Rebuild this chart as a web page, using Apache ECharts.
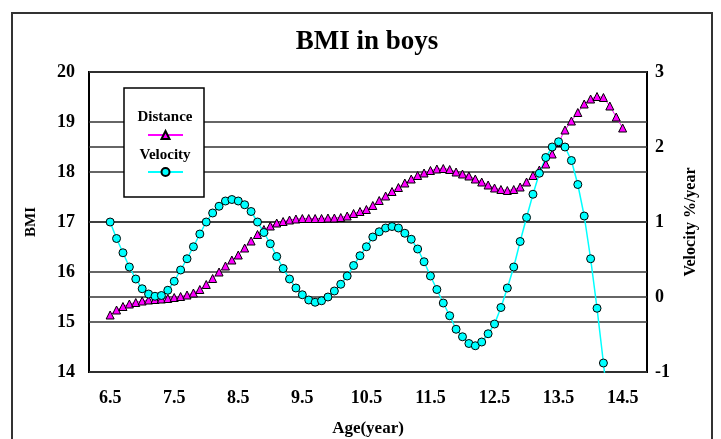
<!DOCTYPE html>
<html>
<head>
<meta charset="utf-8">
<style>
html, body { margin: 0; padding: 0; background: #fff; }
#chart { width: 721px; height: 439px; }
</style>
<script src="https://cdn.jsdelivr.net/npm/echarts@6/dist/echarts.min.js"></script>
</head>
<body>
<div id="chart"></div>
<script>
// BMI (distance) and BMI velocity by age, boys
var distanceAges = [6.5, 6.6, 6.7, 6.8, 6.9, 7.0, 7.1, 7.2, 7.3, 7.4, 7.5, 7.6, 7.7, 7.8, 7.9,
  8.0, 8.1, 8.2, 8.3, 8.4, 8.5, 8.6, 8.7, 8.8, 8.9, 9.0, 9.1, 9.2, 9.3, 9.4, 9.5, 9.6, 9.7, 9.8, 9.9,
  10.0, 10.1, 10.2, 10.3, 10.4, 10.5, 10.6, 10.7, 10.8, 10.9, 11.0, 11.1, 11.2, 11.3, 11.4, 11.5,
  11.6, 11.7, 11.8, 11.9, 12.0, 12.1, 12.2, 12.3, 12.4, 12.5, 12.6, 12.7, 12.8, 12.9, 13.0, 13.1,
  13.2, 13.3, 13.4, 13.5, 13.6, 13.7, 13.8, 13.9, 14.0, 14.1, 14.2, 14.3, 14.4, 14.5]
var distanceBMI = [15.14, 15.24, 15.31, 15.36, 15.39, 15.42, 15.44, 15.45, 15.46, 15.47, 15.49,
  15.51, 15.54, 15.58, 15.65, 15.75, 15.87, 16.00, 16.12, 16.24, 16.34, 16.48, 16.62, 16.75, 16.85,
  16.92, 16.98, 17.01, 17.04, 17.06, 17.07, 17.07, 17.07, 17.07, 17.08, 17.08, 17.09, 17.12, 17.17,
  17.21, 17.25, 17.33, 17.43, 17.52, 17.61, 17.69, 17.78, 17.86, 17.93, 17.98, 18.03, 18.06, 18.07,
  18.05, 18.00, 17.96, 17.92, 17.86, 17.80, 17.74, 17.68, 17.65, 17.63, 17.65, 17.70, 17.80, 17.93,
  18.04, 18.16, 18.36, 18.59, 18.84, 19.02, 19.19, 19.36, 19.46, 19.51, 19.49, 19.32, 19.10, 18.88]

var velocityAges = [6.5, 6.6, 6.7, 6.8, 6.9, 7.0, 7.1, 7.2, 7.3, 7.4, 7.5, 7.6, 7.7, 7.8, 7.9,
  8.0, 8.1, 8.2, 8.3, 8.4, 8.5, 8.6, 8.7, 8.8, 8.9, 9.0, 9.1, 9.2, 9.3, 9.4, 9.5, 9.6, 9.7, 9.8, 9.9,
  10.0, 10.1, 10.2, 10.3, 10.4, 10.5, 10.6, 10.7, 10.8, 10.9, 11.0, 11.1, 11.2, 11.3, 11.4, 11.5,
  11.6, 11.7, 11.8, 11.9, 12.0, 12.1, 12.2, 12.3, 12.4, 12.5, 12.6, 12.7, 12.8, 12.9, 13.0, 13.1,
  13.2, 13.3, 13.4, 13.5, 13.6, 13.7, 13.8, 13.9, 14.0, 14.1, 14.2, 14.3]
var velocityValues = [1.00, 0.78, 0.59, 0.40, 0.24, 0.11, 0.04, 0.01, 0.02, 0.09, 0.21, 0.36, 0.51,
  0.67, 0.84, 1.00, 1.12, 1.21, 1.28, 1.30, 1.28, 1.23, 1.14, 1.00, 0.86, 0.71, 0.54, 0.38, 0.24,
  0.12, 0.03, -0.04, -0.07, -0.05, 0.00, 0.08, 0.17, 0.28, 0.42, 0.55, 0.67, 0.80, 0.87, 0.92, 0.94,
  0.92, 0.85, 0.77, 0.64, 0.47, 0.28, 0.10, -0.08, -0.25, -0.43, -0.53, -0.62, -0.65, -0.60, -0.49,
  -0.36, -0.14, 0.12, 0.40, 0.74, 1.06, 1.37, 1.65, 1.86, 2.00, 2.07, 2.00, 1.82, 1.50, 1.08, 0.51,
  -0.15, -0.88, -1.65]

var ageTicks = [6.5, 7.5, 8.5, 9.5, 10.5, 11.5, 12.5, 13.5, 14.5]

var serif = "'Liberation Serif', 'Times New Roman', serif"

function pairs (xs, ys) {
  return xs.map(function (x, i) { return [x, ys[i]] })
}

var chart = echarts.init(document.getElementById('chart'))
chart.setOption({
  backgroundColor: '#fff',
  animation: false,
  title: {
    text: 'BMI in boys',
    left: 362,
    top: 24,
    textAlign: 'center',
    textStyle: { fontFamily: serif, fontSize: 27, fontWeight: 'bold', color: '#000' }
  },
  grid: {
    left: 89,
    right: 74,
    top: 72,
    bottom: 67,
    outerBoundsMode: 'none',
    show: true,
    backgroundColor: '#fff',
    borderColor: '#000',
    borderWidth: 2
  },
  legend: {
    data: ['Distance', 'Velocity'],
    orient: 'vertical',
    left: 147,
    top: 130,
    padding: 0,
    itemWidth: 35,
    itemHeight: 10,
    itemGap: 27,
    z: 8,
    formatter: function () { return '' },
    textStyle: { fontSize: 1 }
  },
  graphic: [
    {
      type: 'rect',
      z: 7,
      shape: { x: 124, y: 88, width: 80, height: 109 },
      style: { fill: '#fff', stroke: '#000', lineWidth: 1.5 }
    },
    {
      type: 'text',
      z: 9,
      x: 165,
      y: 117,
      style: { text: 'Distance', fontFamily: serif, fontSize: 15, fontWeight: 'bold', fill: '#000', align: 'center', verticalAlign: 'middle' }
    },
    {
      type: 'text',
      z: 9,
      x: 165,
      y: 155,
      style: { text: 'Velocity', fontFamily: serif, fontSize: 15, fontWeight: 'bold', fill: '#000', align: 'center', verticalAlign: 'middle' }
    },
    {
      type: 'rect',
      z: 1,
      silent: true,
      shape: { x: 12, y: 13, width: 700, height: 440 },
      style: { fill: 'none', stroke: '#333', lineWidth: 2 }
    }
  ],
  xAxis: {
    type: 'value',
    min: 6.17,
    max: 14.88,
    name: 'Age(year)',
    nameLocation: 'middle',
    nameGap: 48,
    nameTextStyle: { fontFamily: serif, fontSize: 17, fontWeight: 'bold', color: '#000' },
    axisLine: { show: false },
    axisTick: { show: false },
    splitLine: { show: false },
    axisLabel: {
      customValues: ageTicks,
      margin: 17,
      fontFamily: serif,
      fontSize: 18,
      fontWeight: 'bold',
      color: '#000',
      formatter: function (v) { return v.toFixed(1) }
    }
  },
  yAxis: [
    {
      type: 'value',
      min: 14,
      max: 20,
      interval: 1,
      name: 'BMI',
      nameLocation: 'middle',
      nameGap: 50,
      nameTextStyle: { fontFamily: serif, fontSize: 15, fontWeight: 'bold', color: '#000' },
      axisLine: { show: false },
      axisTick: { show: false },
      splitLine: { show: true, lineStyle: { color: '#333', width: 1.5 } },
      axisLabel: { margin: 14, fontFamily: serif, fontSize: 18, fontWeight: 'bold', color: '#000' }
    },
    {
      type: 'value',
      min: -1,
      max: 3,
      interval: 1,
      position: 'right',
      name: 'Velocity %/year',
      nameLocation: 'middle',
      nameGap: 36,
      nameTextStyle: { fontFamily: serif, fontSize: 16, fontWeight: 'bold', color: '#000' },
      axisLine: { show: false },
      axisTick: { show: false },
      splitLine: { show: true, lineStyle: { color: '#333', width: 1.5 } },
      axisLabel: { margin: 8, fontFamily: serif, fontSize: 18, fontWeight: 'bold', color: '#000' }
    }
  ],
  series: [
    {
      name: 'Distance',
      type: 'line',
      yAxisIndex: 0,
      data: pairs(distanceAges, distanceBMI),
      symbol: 'triangle',
      symbolSize: 8,
      clip: true,
      lineStyle: { color: '#ff00ff', width: 1 },
      itemStyle: { color: '#ff00ff', borderColor: '#000', borderWidth: 1 }
    },
    {
      name: 'Velocity',
      type: 'line',
      yAxisIndex: 1,
      data: pairs(velocityAges, velocityValues),
      symbol: 'circle',
      symbolSize: 8,
      clip: true,
      lineStyle: { color: '#00ffff', width: 1.5 },
      itemStyle: { color: '#00ffff', borderColor: '#000', borderWidth: 1 }
    }
  ]
})
</script>
</body>
</html>
